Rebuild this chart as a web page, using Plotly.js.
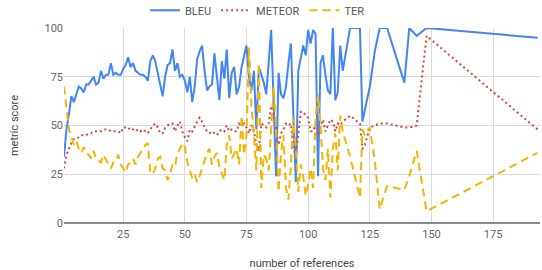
<!DOCTYPE html>
<html>
<head>
<meta charset="utf-8">
<script src="https://cdn.plot.ly/plotly-3.0.1.min.js"></script>
<style>
html,body{margin:0;padding:0;background:#fff;}
#chart{width:542px;height:270px;}
</style>
</head>
<body>
<div id="chart"></div>
<script>
// number of references
const refs = [
  1,2,3,4,5,6,7,8,9,10,11,12,13,14,15,16,17,18,19,20,
  21,22,23,24,25,26,27,28,29,30,31,32,33,34,35,36,37,38,39,40,
  41,42,43,44,45,46,47,48,49,50,51,52,53,54,55,56,57,58,59,60,
  61,62,63,64,65,66,67,68,69,70,71,72,73,74,75,76,77,78,79,80,
  81,82,83,84,85,86,87,88,89,90,91,92,93,94,95,96,97,98,99,100,
  101,102,103,104,105,106,107,108,109,110,111,112,113,114,117,121,122,123,125,127,
  129,132,139,141,144,148,193
];
const bleu = [
  34,48,56,65,62,66,70,69,67,71,71,73,75,71,72,78,74,76,76,82,
  76,77,76,76,79,81,85,80,82,78,77,76,76,75,73,83,86,83,77,70,
  65,75,81,82,89,78,82,75,76,73,67,75,62,70,84,88,91,78,68,70,
  71,87,73,63,83,74,89,64,77,80,66,70,80,86,91,75,68,78,48,80,
  76,72,66,85,99,62,24,77,66,64,70,82,92,55,21,78,85,91,86,99,
  92,99,97,24,82,86,76,68,66,100,63,67,91,78,100,100,52,58,70,88,
  100,100,72,100,96,100,95
];
const meteor = [
  28,35,38,41,43,43,44,45,45,45,46,46,47,47,47,47,48,48,48,47,
  47,47,47,46,49,49,48,49,48,47,48,47,48,47,46,48,50,51,49,46,
  46,49,50,51,51,47,50,52,47,44,42,48,47,50,52,54,52,49,47,46,
  47,46,45,47,48,47,50,47,48,47,47,51,50,51,49,46,50,47,40,37,
  51,50,49,51,60,57,47,40,46,48,51,50,51,39,34,46,57,57,55,54,
  47,47,51,45,50,53,47,50,53,52,47,51,50,52,55,51,38,40,49,50,
  51,51,49,49,50,96,48
];
const ter = [
  70,58,48,44,40,42,38,36,39,36,35,33,37,33,32,31,35,32,30,28,
  31,32,35,30,28,26,30,31,33,30,34,36,38,40,41,26,25,28,33,34,
  28,27,22,25,30,29,36,38,41,39,31,27,23,25,21,24,28,33,36,38,
  30,34,36,29,25,22,40,45,33,36,38,30,55,35,45,90,60,45,27,82,
  18,35,33,27,52,70,50,16,36,45,18,12,30,54,38,16,30,24,14,20,
  28,18,54,66,50,28,22,38,13,38,46,27,55,47,34,13,48,45,49,32,
  7,19,17,24,37,6,36
];

const common = {type:'scatter', mode:'lines', x: refs, hoverinfo:'skip'};
const traces = [
  Object.assign({}, common, {name:'BLEU', y: bleu, line:{color:'#4285f4', width:2}}),
  Object.assign({}, common, {name:'METEOR', y: meteor, line:{color:'#db4437', width:2, dash:'2px,3px'}}),
  Object.assign({}, common, {name:'TER', y: ter, line:{color:'#f4b400', width:2, dash:'8px,5px'}})
];

const layout = {
  width:542, height:270,
  margin:{l:64, r:2, t:28, b:47},
  paper_bgcolor:'#fff', plot_bgcolor:'#fff',
  font:{family:'Roboto, Arial, sans-serif', size:11, color:'#555'},
  showlegend:true,
  legend:{orientation:'h', xref:'container', yref:'container', x:0.475, y:0.962, xanchor:'center', yanchor:'middle',
          font:{size:11, color:'#555'}, itemwidth:30, tracegroupgap:0},
  xaxis:{
    range:[1,194], tickvals:[25,50,75,100,125,150,175], ticks:'',
    showgrid:true, gridcolor:'#dadada', gridwidth:1, zeroline:false, showline:false,
    tickfont:{size:11, color:'#666'}, ticklabelstandoff:3,
    title:{text:'number of references', font:{size:11, color:'#444'}, standoff:20}
  },
  yaxis:{
    range:[0,100], tickvals:[0,25,50,75,100], ticks:'',
    showgrid:true, gridcolor:'#dadada', gridwidth:1,
    zeroline:true, zerolinecolor:'#8a8a8a', zerolinewidth:1.5, showline:false,
    tickfont:{size:11, color:'#666'},
    title:{text:'metric score', font:{size:11, color:'#444'}, standoff:23}
  }
};
Plotly.newPlot('chart', traces, layout, {staticPlot:true, displayModeBar:false});
</script>
</body>
</html>
